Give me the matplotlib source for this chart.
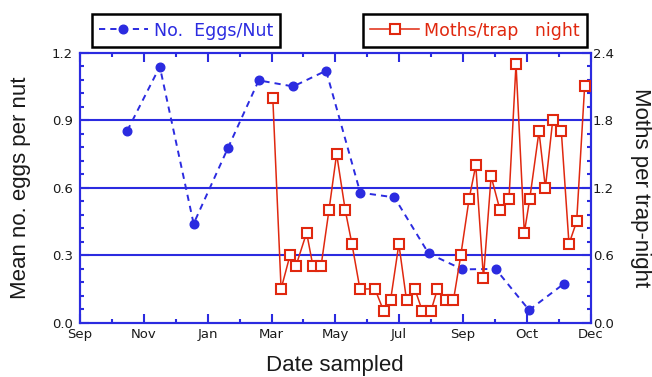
import matplotlib
matplotlib.use("Agg")
import matplotlib.pyplot as plt
from matplotlib.lines import Line2D
from matplotlib.ticker import MultipleLocator, FixedLocator, FixedFormatter, FormatStrFormatter

# Months counted from 1 September of the first season
month_ticks = [0, 2, 4, 6, 8, 10, 12, 14, 16]
month_labels = ["Sep", "Nov", "Jan", "Mar", "May", "Jul", "Sep", "Oct", "Dec"]

# Mean number of eggs per nut (left axis)
egg_month = [1.48, 2.50, 3.56, 4.64, 5.60, 6.68, 7.71, 8.78, 9.85, 10.92, 11.98, 13.02, 14.07, 15.15]
egg_value = [0.853, 1.138, 0.44, 0.778, 1.077, 1.05, 1.12, 0.578, 0.557, 0.308, 0.237, 0.239, 0.056, 0.172]

# Moths caught per trap-night (right axis)
moth_month = [6.04, 6.30, 6.58, 6.76, 7.10, 7.30, 7.55, 7.80, 8.04, 8.31, 8.52, 8.77,
              9.24, 9.52, 9.73, 9.99, 10.23, 10.49, 10.73, 10.99, 11.20, 11.46, 11.70,
              11.93, 12.19, 12.40, 12.64, 12.88, 13.16, 13.44, 13.66, 13.92, 14.09,
              14.38, 14.58, 14.81, 15.08, 15.32, 15.56, 15.81]
moth_value = [2.0, 0.3, 0.6, 0.5, 0.8, 0.5, 0.5, 1.0, 1.5, 1.0, 0.7, 0.3,
              0.3, 0.1, 0.2, 0.7, 0.2, 0.3, 0.1, 0.1, 0.3, 0.2, 0.2,
              0.6, 1.1, 1.4, 0.4, 1.3, 1.0, 1.1, 2.3, 0.8, 1.1,
              1.7, 1.2, 1.8, 1.7, 0.7, 0.9, 2.1]

BLUE = "#2b2be0"
RED = "#e0280f"
TEXT = "#1a1a1a"
DASH = (0, (3.2, 2.6))

fig = plt.figure(figsize=(6.52, 3.77), dpi=100)
ax = fig.add_axes([80 / 652, 54.3 / 377, 510.7 / 652, 270 / 377])
ax2 = ax.twinx()

ax.set_xlim(0, 16)
ax.set_ylim(0, 1.2)
ax2.set_ylim(0, 2.4)

# horizontal reference lines
for yv in (0.3, 0.6, 0.9):
    ax.axhline(yv, color=BLUE, lw=1.5, zorder=1)

# eggs per nut: dashed line with filled circles
ax.plot(egg_month, egg_value, color=BLUE, lw=1.4, ls=DASH, marker="o", ms=6.2,
        mec=BLUE, zorder=3)

# moths per trap night
ax2.plot(moth_month, moth_value, color=RED, lw=1.1, marker="s", ms=7.2,
         mfc="white", mec=RED, mew=1.5, zorder=3)

# axes styling
for a in (ax, ax2):
    for s in a.spines.values():
        s.set_color(BLUE)
        s.set_linewidth(1.5)

ax.xaxis.set_major_locator(FixedLocator(month_ticks))
ax.xaxis.set_major_formatter(FixedFormatter(month_labels))
ax.xaxis.set_minor_locator(MultipleLocator(1))
ax.yaxis.set_major_locator(MultipleLocator(0.3))
ax.yaxis.set_minor_locator(MultipleLocator(0.06))
ax.yaxis.set_major_formatter(FormatStrFormatter("%.1f"))
ax2.yaxis.set_major_locator(MultipleLocator(0.6))
ax2.yaxis.set_minor_locator(MultipleLocator(0.12))
ax2.yaxis.set_major_formatter(FormatStrFormatter("%.1f"))

ax.tick_params(axis="x", which="both", direction="in", top=True, bottom=True,
               color=BLUE, width=1.5, labelcolor=TEXT, labelsize=9.5, pad=4)
ax.tick_params(axis="x", which="major", length=6.2)
ax.tick_params(axis="x", which="minor", length=3)
ax.tick_params(axis="y", which="both", direction="in", left=True, right=False,
               color=BLUE, width=1.5, labelcolor=TEXT, labelsize=9.5, pad=5)
ax.tick_params(axis="y", which="major", length=6.5)
ax.tick_params(axis="y", which="minor", length=3)
ax2.tick_params(axis="y", which="both", direction="in", right=True, left=False,
                color=BLUE, width=1.5, labelcolor=TEXT, labelsize=9.5, pad=1.5)
ax2.tick_params(axis="y", which="major", length=6.5)
ax2.tick_params(axis="y", which="minor", length=3)

# axis titles
lab = dict(fontsize=16, color=TEXT, family="Liberation Sans")
fig.text(21 / 652, 1 - 188 / 377, "Mean no. eggs per nut", rotation=90,
         ha="center", va="center", **lab)
fig.text(641 / 652, 1 - 188 / 377, "Moths per trap-night", rotation=270,
         ha="center", va="center", **lab)
fig.text(335 / 652, 1 - 366 / 377, "Date sampled", ha="center", va="center", **lab)

# legends
egg_handle = Line2D([], [], color=BLUE, lw=1.4, ls=DASH, marker="o",
                    ms=6.2, mec=BLUE)
moth_handle = Line2D([], [], color=RED, lw=1.1, marker="s", ms=7.2,
                     mfc="white", mec=RED, mew=1.5)

common = dict(loc="center", fontsize=12.5, frameon=True, fancybox=False,
              framealpha=1, edgecolor="black", numpoints=1, handlelength=2.8,
              borderpad=0.42, borderaxespad=0)
leg1 = fig.legend([egg_handle], ["No.  Eggs/Nut"],
                  bbox_to_anchor=(186 / 652, 1 - 30.5 / 377),
                  labelcolor=BLUE, handletextpad=0.36, **common)
leg2 = fig.legend([moth_handle], ["Moths/trap   night"],
                  bbox_to_anchor=(475 / 652, 1 - 30.5 / 377),
                  labelcolor=RED, handletextpad=0.28, **common)
for lg in (leg1, leg2):
    lg.get_frame().set_linewidth(1.8)

fig.savefig("out.png", dpi=100)
